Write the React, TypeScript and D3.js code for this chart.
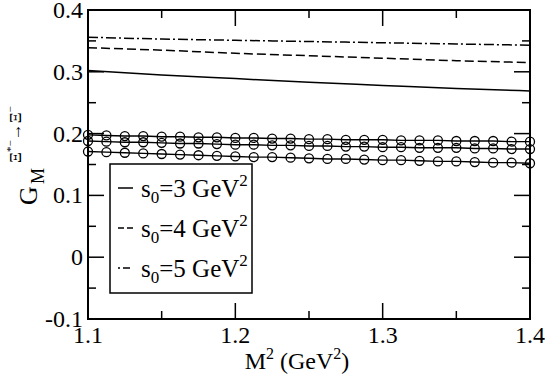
import React from 'react';
import * as d3 from 'd3';

// ---- data ----
const circleX = [1.1, 1.1125, 1.125, 1.1375, 1.15, 1.1625, 1.175, 1.1875, 1.2, 1.2125, 1.225, 1.2375, 1.25, 1.2625, 1.275, 1.2875, 1.3, 1.3125, 1.325, 1.3375, 1.35, 1.3625, 1.375, 1.3875, 1.4];
const circleTop = [0.198, 0.197, 0.196, 0.196, 0.195, 0.195, 0.194, 0.194, 0.193, 0.193, 0.192, 0.192, 0.191, 0.191, 0.190, 0.190, 0.190, 0.189, 0.189, 0.189, 0.188, 0.188, 0.188, 0.187, 0.187];
const circleMid = [0.188, 0.187, 0.186, 0.186, 0.185, 0.184, 0.184, 0.183, 0.182, 0.182, 0.181, 0.181, 0.180, 0.180, 0.179, 0.179, 0.178, 0.178, 0.177, 0.177, 0.177, 0.176, 0.176, 0.175, 0.175];
const circleBot = [0.171, 0.170, 0.169, 0.168, 0.167, 0.166, 0.165, 0.164, 0.163, 0.162, 0.162, 0.161, 0.160, 0.159, 0.159, 0.158, 0.157, 0.157, 0.156, 0.155, 0.155, 0.154, 0.153, 0.153, 0.152];

const lineX = [1.1, 1.15, 1.2, 1.25, 1.3, 1.35, 1.4];
const s0_3 = [0.302, 0.295, 0.289, 0.283, 0.278, 0.273, 0.269];
const s0_4 = [0.339, 0.335, 0.330, 0.326, 0.322, 0.318, 0.315];
const s0_5 = [0.356, 0.353, 0.351, 0.349, 0.347, 0.345, 0.343];

const xMajor = [1.1, 1.2, 1.3, 1.4];
const xMinor = [1.15, 1.25, 1.35];
const yMajor = [-0.1, 0, 0.1, 0.2, 0.3, 0.4];
const yMinor = [-0.05, 0.05, 0.15, 0.25, 0.35];
const xTickLabels = ['1.1', '1.2', '1.3', '1.4'];
const yTickLabels = ['-0.1', '0', '0.1', '0.2', '0.3', '0.4'];

const legendItems = [
  { s0: '3', dash: 'none' },
  { s0: '4', dash: '6,3' },
  { s0: '5', dash: '2,3,7,3' },
];

const FONT = "'Liberation Serif', 'Times New Roman', 'DejaVu Serif', serif";
const TS: React.CSSProperties = { fontFamily: FONT };

export default function App() {
  const L = 88, R = 530, T = 10, B = 319;
  const x = d3.scaleLinear().domain([1.1, 1.4]).range([L, R]);
  const y = d3.scaleLinear().domain([-0.1, 0.4]).range([B, T]);

  const curve = d3.line<number>().x((_, i) => x(lineX[i])).y(d => y(d)).curve(d3.curveMonotoneX);
  const cline = d3.line<number>().x((_, i) => x(circleX[i])).y(d => y(d));

  const major = 16, minor = 8;

  const circleSeries = [circleTop, circleMid, circleBot];

  return (
    <svg width={545} height={378} style={{ position: 'absolute', left: 0, top: 0, background: '#fff', fontFamily: FONT }}>
      <rect x={0} y={0} width={545} height={378} fill="#fff" />
      {/* curves */}
      <path d={curve(s0_3) || ''} fill="none" stroke="#000" strokeWidth={1.5} />
      <path d={curve(s0_4) || ''} fill="none" stroke="#000" strokeWidth={1.5} strokeDasharray="9,4" />
      <path d={curve(s0_5) || ''} fill="none" stroke="#000" strokeWidth={1.5} strokeDasharray="10,3,2,3" />
      {/* circle series */}
      {circleSeries.map((s, k) => (
        <g key={k}>
          <path d={cline(s) || ''} fill="none" stroke="#000" strokeWidth={1.4} />
          {s.map((v, i) => (
            <circle key={i} cx={x(circleX[i])} cy={y(v)} r={4.5} fill="none" stroke="#000" strokeWidth={1.3} />
          ))}
        </g>
      ))}
      {/* ticks */}
      {xMajor.map((v, i) => (
        <g key={'xm' + i}>
          <line x1={x(v)} x2={x(v)} y1={B} y2={B - major} stroke="#000" strokeWidth={1.5} />
          <line x1={x(v)} x2={x(v)} y1={T} y2={T + major} stroke="#000" strokeWidth={1.5} />
          <text x={x(v)} y={343} fontSize={24} textAnchor="middle" style={TS}>{xTickLabels[i]}</text>
        </g>
      ))}
      {xMinor.map((v, i) => (
        <g key={'xn' + i}>
          <line x1={x(v)} x2={x(v)} y1={B} y2={B - minor} stroke="#000" strokeWidth={1.5} />
          <line x1={x(v)} x2={x(v)} y1={T} y2={T + minor} stroke="#000" strokeWidth={1.5} />
        </g>
      ))}
      {yMajor.map((v, i) => (
        <g key={'ym' + i}>
          <line x1={L} x2={L + major} y1={y(v)} y2={y(v)} stroke="#000" strokeWidth={1.5} />
          <line x1={R} x2={R - major} y1={y(v)} y2={y(v)} stroke="#000" strokeWidth={1.5} />
          <text x={83} y={y(v) + 8} fontSize={24} textAnchor="end" style={TS}>{yTickLabels[i]}</text>
        </g>
      ))}
      {yMinor.map((v, i) => (
        <g key={'yn' + i}>
          <line x1={L} x2={L + minor} y1={y(v)} y2={y(v)} stroke="#000" strokeWidth={1.5} />
          <line x1={R} x2={R - minor} y1={y(v)} y2={y(v)} stroke="#000" strokeWidth={1.5} />
        </g>
      ))}
      {/* frame */}
      <rect x={L} y={T} width={R - L} height={B - T} fill="none" stroke="#000" strokeWidth={2} />
      {/* legend */}
      <rect x={110} y={164} width={142} height={129} fill="#fff" stroke="#000" strokeWidth={1.5} />
      {legendItems.map((it, i) => {
        const cy = 188 + i * 40;
        return (
          <g key={'lg' + i}>
            <line x1={118} x2={133} y1={cy} y2={cy} stroke="#000" strokeWidth={1.5} strokeDasharray={it.dash} />
            <text x={141} y={cy + 9} fontSize={25} style={TS}>
              s<tspan fontSize={17} dy={6}>0</tspan><tspan dy={-6}>={it.s0} GeV</tspan><tspan fontSize={17} dy={-11}>2</tspan>
            </text>
          </g>
        );
      })}
      {/* x label */}
      <text x={297} y={369} fontSize={24} textAnchor="middle" style={TS}>
        M<tspan fontSize={16} dy={-10}>2</tspan><tspan dy={10}> (GeV</tspan><tspan fontSize={16} dy={-10}>2</tspan><tspan dy={10}>)</tspan>
      </text>
      {/* y label */}
      <g transform="translate(37,205) rotate(-90)">
        <text x={0} y={0} fontSize={26} style={TS}>G</text>
        <text x={21} y={7} fontSize={18} style={TS}>M</text>
        <text x={42} y={-16} fontSize={17} style={TS}>
          Ξ<tspan fontSize={11} dy={-7}>*−</tspan><tspan dy={7}>→Ξ</tspan><tspan fontSize={11} dy={-7}>−</tspan>
        </text>
      </g>
    </svg>
  );
}
